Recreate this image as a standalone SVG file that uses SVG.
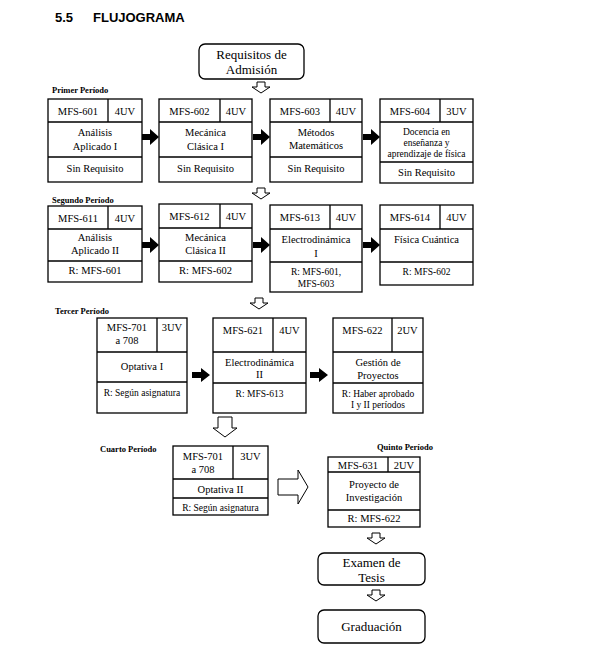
<svg xmlns="http://www.w3.org/2000/svg" width="594" height="664" viewBox="0 0 594 664">
<style>
.bx{fill:#fff;stroke:#000;stroke-width:1.3}
.ln{stroke:#000;stroke-width:1.3;fill:none}
.t{font-family:"Liberation Serif","Times New Roman",serif;font-size:10.5px;text-anchor:middle;fill:#000}
.s{font-family:"Liberation Serif","Times New Roman",serif;font-size:9.5px;text-anchor:middle;fill:#000}
.b{font-family:"Liberation Serif","Times New Roman",serif;font-size:13px;text-anchor:middle;fill:#000}
.p{font-family:"Liberation Serif","Times New Roman",serif;font-size:8.5px;font-weight:bold;fill:#000}
.h{font-family:"Liberation Sans",Arial,sans-serif;font-size:13px;font-weight:bold;fill:#000}
.ha{fill:#fff;stroke:#000;stroke-width:1}
.fa{fill:#000;stroke:none}
</style>
<rect width="594" height="664" fill="#fff"/>
<text class="h" x="55" y="22">5.5</text>
<text class="h" x="93" y="22">FLUJOGRAMA</text>
<text class="p" x="52" y="93">Primer Período</text>
<text class="p" x="52" y="203">Segundo Período</text>
<text class="p" x="55" y="314">Tercer Período</text>
<text class="p" x="100" y="452">Cuarto Período</text>
<text class="p" x="377" y="450">Quinto Período</text>

<g id="requisitos">
<rect class="bx" x="199" y="44" width="105" height="35" rx="6" stroke-width="1.6"/>
<text class="b" x="251.5" y="59">Requisitos de</text>
<text class="b" x="251.5" y="74">Admisión</text>
</g>

<g id="mfs601">
<rect class="bx" x="48" y="99" width="94" height="83"/>
<path class="ln" d="M48 122H142M108 99V122M48 157H142"/>
<text class="t" x="78" y="115">MFS-601</text><text class="t" x="125" y="115">4UV</text>
<text class="t" x="95" y="136">Análisis</text><text class="t" x="95" y="150">Aplicado I</text>
<text class="t" x="95" y="172">Sin Requisito</text>
</g>
<g id="mfs602">
<rect class="bx" x="159" y="99" width="93" height="83"/>
<path class="ln" d="M159 122H252M220 99V122M159 157H252"/>
<text class="t" x="189.5" y="115">MFS-602</text><text class="t" x="236" y="115">4UV</text>
<text class="t" x="205.5" y="136">Mecánica</text><text class="t" x="205.5" y="150">Clásica I</text>
<text class="t" x="205.5" y="172">Sin Requisito</text>
</g>
<g id="mfs603">
<rect class="bx" x="270" y="99" width="92" height="83"/>
<path class="ln" d="M270 122H362M330 99V122M270 157H362"/>
<text class="t" x="300" y="115">MFS-603</text><text class="t" x="346" y="115">4UV</text>
<text class="t" x="316" y="136">Métodos</text><text class="t" x="316" y="149">Matemáticos</text>
<text class="t" x="316" y="172">Sin Requisito</text>
</g>
<g id="mfs604">
<rect class="bx" x="380" y="99" width="93" height="84"/>
<path class="ln" d="M380 122H473M440 99V122M380 162H473"/>
<text class="t" x="410" y="115">MFS-604</text><text class="t" x="456.5" y="115">3UV</text>
<text class="s" x="426.5" y="135">Docencia en</text><text class="s" x="426.5" y="146">enseñanza y</text><text class="s" x="426.5" y="157">aprendizaje de física</text>
<text class="t" x="426.5" y="176">Sin Requisito</text>
</g>

<g id="mfs611">
<rect class="bx" x="48" y="206" width="94" height="76"/>
<path class="ln" d="M48 229H142M108 206V229M48 261H142"/>
<text class="t" x="78" y="222">MFS-611</text><text class="t" x="125" y="222">4UV</text>
<text class="t" x="95" y="241">Análisis</text><text class="t" x="95" y="254">Aplicado II</text>
<text class="t" x="95" y="274">R: MFS-601</text>
</g>
<g id="mfs612">
<rect class="bx" x="159" y="204" width="93" height="78"/>
<path class="ln" d="M159 228H252M220 204V228M159 261H252"/>
<text class="t" x="189.5" y="220">MFS-612</text><text class="t" x="236" y="220">4UV</text>
<text class="t" x="205.5" y="241">Mecánica</text><text class="t" x="205.5" y="254">Clásica II</text>
<text class="t" x="205.5" y="274">R: MFS-602</text>
</g>
<g id="mfs613">
<rect class="bx" x="270" y="205" width="92" height="87"/>
<path class="ln" d="M270 229H362M330 205V229M270 262H362"/>
<text class="t" x="300" y="221">MFS-613</text><text class="t" x="346" y="221">4UV</text>
<text class="t" x="316" y="243">Electrodinámica</text><text class="t" x="316" y="257">I</text>
<text class="s" x="316" y="275">R: MFS-601,</text><text class="s" x="316" y="287">MFS-603</text>
</g>
<g id="mfs614">
<rect class="bx" x="380" y="205" width="93" height="80"/>
<path class="ln" d="M380 229H473M440 205V229M380 262H473"/>
<text class="t" x="410" y="221">MFS-614</text><text class="t" x="456.5" y="221">4UV</text>
<text class="t" x="426.5" y="243">Física Cuántica</text>
<text class="s" x="426.5" y="275">R: MFS-602</text>
</g>

<g id="mfs701a">
<rect class="bx" x="97" y="318" width="90" height="95"/>
<path class="ln" d="M97 352H187M157 318V352M97 382H187"/>
<text class="t" x="127" y="331">MFS-701</text><text class="t" x="127" y="344">a 708</text><text class="t" x="172" y="331">3UV</text>
<text class="t" x="142" y="370">Optativa I</text>
<text class="s" x="142" y="396">R: Según asignatura</text>
</g>
<g id="mfs621">
<rect class="bx" x="213" y="318" width="93" height="95"/>
<path class="ln" d="M213 352H306M273 318V352M213 383H306"/>
<text class="t" x="243" y="334">MFS-621</text><text class="t" x="289.5" y="334">4UV</text>
<text class="t" x="259.5" y="366">Electrodinámica</text><text class="t" x="259.5" y="378">II</text>
<text class="s" x="259.5" y="397">R: MFS-613</text>
</g>
<g id="mfs622">
<rect class="bx" x="333" y="318" width="90" height="95"/>
<path class="ln" d="M333 352H423M392 318V352M333 383H423"/>
<text class="t" x="362.5" y="334">MFS-622</text><text class="t" x="407.5" y="334">2UV</text>
<text class="t" x="378" y="366">Gestión de</text><text class="t" x="378" y="379">Proyectos</text>
<text class="s" x="378" y="397">R: Haber aprobado</text><text class="s" x="378" y="408">I y II períodos</text>
</g>

<g id="mfs701b">
<rect class="bx" x="173" y="446" width="95" height="69"/>
<path class="ln" d="M173 479H268M233 446V479M173 498H268"/>
<text class="t" x="203" y="460">MFS-701</text><text class="t" x="203" y="473">a 708</text><text class="t" x="250.5" y="460">3UV</text>
<text class="t" x="220.5" y="493">Optativa II</text>
<text class="s" x="220.5" y="511">R: Según asignatura</text>
</g>
<g id="mfs631">
<rect class="bx" x="328" y="457" width="92" height="70"/>
<path class="ln" d="M328 472H420M388 457V472M328 510H420"/>
<text class="t" x="358" y="469">MFS-631</text><text class="t" x="404" y="469">2UV</text>
<text class="t" x="374" y="488">Proyecto de</text><text class="t" x="374" y="501">Investigación</text>
<text class="t" x="374" y="522">R: MFS-622</text>
</g>

<g id="examen">
<rect class="bx" x="318" y="553" width="107" height="32" rx="6" stroke-width="1.6"/>
<text class="b" x="371.5" y="567">Examen de</text>
<text class="b" x="371.5" y="582">Tesis</text>
</g>
<g id="graduacion">
<rect class="bx" x="318" y="610" width="107" height="33" rx="6" stroke-width="1.6"/>
<text class="b" x="371.5" y="631">Graduación</text>
</g>

<g id="connectors">
<polygon class="ha" points="257,82 265,82 265,87 270,87 261,93 252,87 257,87"/>
<polygon class="ha" points="257,188 265,188 265,193 270,193 261,199 252,193 257,193"/>
<polygon class="ha" points="255,298 263,298 263,303 268,303 259,309 250,303 255,303"/>
<polygon class="ha" points="218,417 232,417 232,428 237,428 225,437 213,428 218,428"/>
<polygon class="ha" points="278,479 298,479 298,470 308,487 298,504 298,495 278,495"/>
<polygon class="ha" points="372,533 380,533 380,538 385,538 376,544 367,538 372,538"/>
<polygon class="ha" points="372,590 380,590 380,595 385,595 376,601 367,595 372,595"/>
<polygon class="fa" points="142,134 150,134 150,129 159,137 150,145 150,140 142,140"/>
<polygon class="fa" points="253,134 261,134 261,129 270,137 261,145 261,140 253,140"/>
<polygon class="fa" points="363,134 371,134 371,129 380,137 371,145 371,140 363,140"/>
<polygon class="fa" points="142,242 150,242 150,237 159,245 150,253 150,248 142,248"/>
<polygon class="fa" points="253,242 261,242 261,237 270,245 261,253 261,248 253,248"/>
<polygon class="fa" points="363,242 371,242 371,237 380,245 371,253 371,248 363,248"/>
<polygon class="fa" points="192,372 201,372 201,368 210,375 201,382 201,378 192,378"/>
<polygon class="fa" points="310,372 319,372 319,368 328,375 319,382 319,378 310,378"/>
</g>
</svg>
